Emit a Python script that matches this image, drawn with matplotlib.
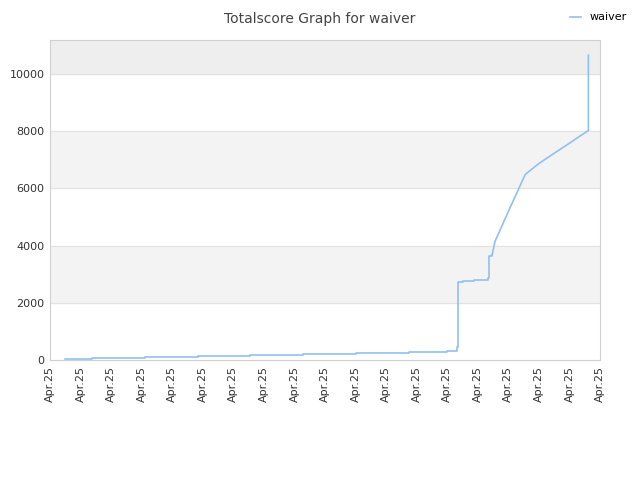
import matplotlib
matplotlib.use("Agg")
import matplotlib.pyplot as plt

# score history (x in tick units, cumulative total score)
# stepped part: many small wins, each a flat level
step_times = [0.49, 1.37, 3.11, 4.83, 6.55, 8.28, 10.01, 11.75, 12.6, 12.98,
              13.33, 13.36, 13.53, 13.88, 14.34, 14.37, 14.47]
step_scores = [25, 60, 95, 130, 165, 200, 235, 270, 290, 315,
               460, 2740, 2770, 2810, 2850, 3640, 3670]
# dense part: scores climbing so often the line looks continuous
ramp_times = [14.47, 14.56, 15.0, 15.3, 15.55, 15.6, 16.0, 16.5, 17.0, 17.3,
              17.6, 17.62, 17.62]
ramp_scores = [3670, 4140, 5190, 5900, 6480, 6530, 6870, 7230, 7580, 7800,
               8010, 8010, 10660]
tick_labels = ["Apr.25"] * 19
yticks = [0, 2000, 4000, 6000, 8000, 10000]

fig = plt.figure(figsize=(6.4, 4.8), dpi=100)
ax = fig.add_axes([50 / 640, 120 / 480, 550 / 640, 320 / 480])

ax.set_xlim(0, 18)
ax.set_ylim(0, 11190)

# alternating bands
ax.axhspan(2000, 4000, color="#f3f3f3", zorder=0)
ax.axhspan(6000, 8000, color="#f3f3f3", zorder=0)
ax.axhspan(10000, 11190, color="#eeeeee", zorder=0)
for y in yticks[1:]:
    ax.axhline(y, color="#e2e2e2", lw=0.8, zorder=1)

line_color = "#90c0f0"
ax.plot(step_times, step_scores, drawstyle="steps-post", color=line_color, lw=1.2,
        label="waiver", zorder=3)
ax.plot(ramp_times, ramp_scores, color=line_color, lw=1.2, zorder=3)

ax.set_xticks(range(19))
ax.set_xticklabels(tick_labels, rotation=90, fontsize=8, color="#333333")
ax.set_yticks(yticks)
ax.set_yticklabels([str(v) for v in yticks], fontsize=8, color="#333333")
ax.tick_params(axis="both", length=0, pad=4)
for s in ax.spines.values():
    s.set_color("#d0d0d0")
    s.set_linewidth(0.8)

fig.text(0.5, 0.975, "Totalscore Graph for waiver", ha="center", va="top",
         fontsize=10, color="#444444")
leg = fig.legend(loc="upper right", bbox_to_anchor=(0.995, 0.995), frameon=False,
                 fontsize=8, handlelength=1.0, handletextpad=0.8)

fig.savefig("out.png", dpi=100)
